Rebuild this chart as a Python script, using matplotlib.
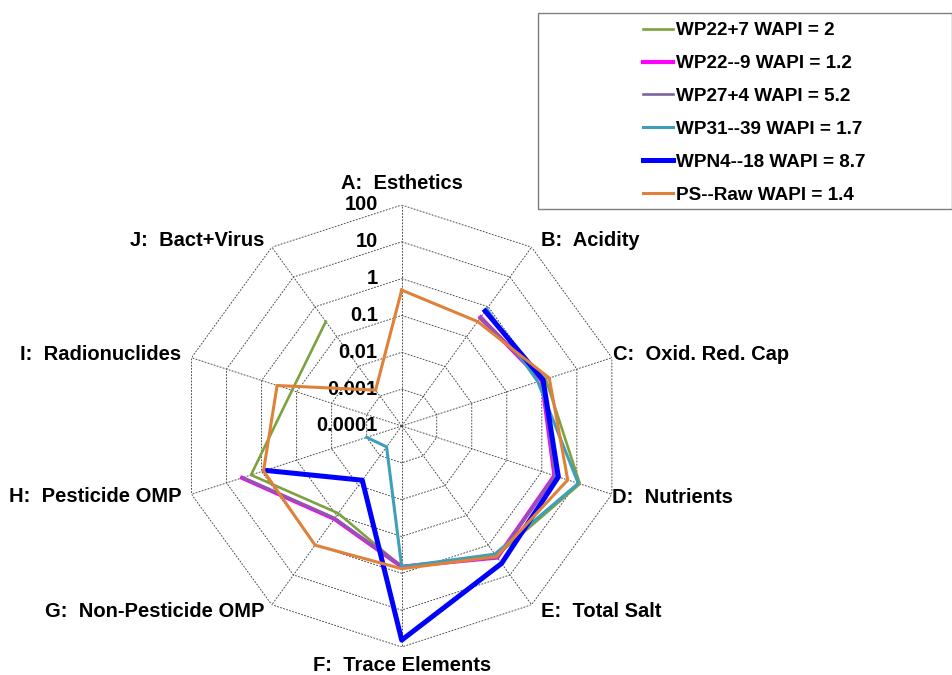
import numpy as np
import matplotlib.pyplot as plt
from matplotlib.patches import Rectangle

plt.rcParams['font.family'] = ['Liberation Sans', 'DejaVu Sans']
plt.rcParams['font.weight'] = 'bold'

# categories (clockwise from top)
cats = ['A:  Esthetics', 'B:  Acidity', 'C:  Oxid. Red. Cap', 'D:  Nutrients',
        'E:  Total Salt', 'F:  Trace Elements', 'G:  Non-Pesticide OMP',
        'H:  Pesticide OMP', 'I:  Radionuclides', 'J:  Bact+Virus']
ring_vals = [0.0001, 0.001, 0.01, 0.1, 1, 10, 100]
ring_labels = ['0.0001', '0.001', '0.01', '0.1', '1', '10', '100']

nan = np.nan
# series values (A..J), blanks as nan
wp22p7 = [nan, 0.40, 1.3, 12.2, 2.3, 0.66, 0.085, 2.0, 0.135, 0.32]
wp22m9 = [nan, 0.44, 1.0, 2.3, 2.6, 0.66, 0.13, 3.6, nan, nan]
wp27p4 = [nan, 0.44, 1.02, 2.35, 2.6, 0.66, 0.125, 3.5, nan, nan]
wp31m39 = [nan, 0.85, 0.77, 11.0, 2.0, 0.66, 0.0005, 0.001, nan, nan]
wpn4m18 = [nan, 0.72, 1.09, 2.97, 4.1, 65, 0.0066, 0.79, nan, nan]
psraw = [0.49, 0.32, 1.63, 5.5, 2.4, 0.75, 1.0, 0.88, 0.36, 0.0016]

series = [wp22p7, wp22m9, wp27p4, wp31m39, wpn4m18, psraw]
names = ['WP22+7 WAPI = 2', 'WP22--9 WAPI = 1.2', 'WP27+4 WAPI = 5.2',
         'WP31--39 WAPI = 1.7', 'WPN4--18 WAPI = 8.7', 'PS--Raw WAPI = 1.4']
colors = ['#7BA23F', '#FF00FF', '#7F62A0', '#3F9FB8', '#0000FF', '#E0813A']
widths = [1.9, 3.0, 1.9, 2.2, 3.6, 2.2]

fig = plt.figure(figsize=(9.53, 6.75), dpi=100)
ax = fig.add_axes([0.1896, 0.0415, 0.4638, 0.6548], projection='polar')
ax.set_theta_zero_location('N')
ax.set_theta_direction(-1)
ax.set_rscale('log')
ax.set_rlim(1e-4, 100)
ax.grid(False)
ax.spines['polar'].set_visible(False)
ax.set_xticks([])
ax.set_yticks([])
ax.set_yticks([], minor=True)
ax.patch.set_alpha(0)

n = len(cats)
ang = np.arange(n) * 2 * np.pi / n
ang_c = np.append(ang, ang[0])

# grid
for th in ang:
    ax.plot([th, th], [ring_vals[0], ring_vals[-1]], color='#444444', lw=0.65,
            ls=(0, (2, 1.5)), zorder=1)
for rv in ring_vals[1:]:
    ax.plot(ang_c, [rv] * (n + 1), color='#444444', lw=0.65, ls=(0, (2, 1.5)), zorder=1)

for lab, rv in zip(ring_labels, ring_vals):
    ax.annotate(lab, xy=(0, rv), xytext=(-24, 0), textcoords='offset pixels',
                ha='right', va='center', fontsize=14.5, fontweight='bold')

# category labels
offs = [(0, 12, 'center', 'bottom'), (9, 7, 'left', 'center'), (1, 3, 'left', 'center'),
        (0, -3, 'left', 'center'), (9, -7, 'left', 'center'), (0, -9, 'center', 'top'),
        (-7, -7, 'right', 'center'), (-10, -2, 'right', 'center'), (-10, 3, 'right', 'center'),
        (-7, 7, 'right', 'center')]
for th, lab, (dx, dy, ha, va) in zip(ang, cats, offs):
    ax.annotate(lab, xy=(th, 100), xytext=(dx, dy), textcoords='offset pixels',
                ha=ha, va=va, fontsize=14.5, fontweight='bold', annotation_clip=False)

handles = []
for i, (vals, nm, c, w) in enumerate(zip(series, names, colors, widths)):
    v = np.append(vals, vals[0])
    h, = ax.plot(ang_c, v, color=c, lw=w, label=nm, zorder=3 + i, clip_on=False)
    handles.append(h)

fig.legend(handles=handles, loc='upper left', bbox_to_anchor=(643 / 953, 1 - 22 / 675),
           frameon=False, borderpad=0, borderaxespad=0,
           handlelength=1.6, handletextpad=0.15, labelspacing=0.83,
           prop={'weight': 'bold', 'size': 13.6})
fig.patches.append(Rectangle((538 / 953, 1 - 209 / 675), 414 / 953, 196 / 675,
                             transform=fig.transFigure, fill=False,
                             edgecolor='#7f7f7f', lw=1))

fig.savefig('out.png', dpi=100)
